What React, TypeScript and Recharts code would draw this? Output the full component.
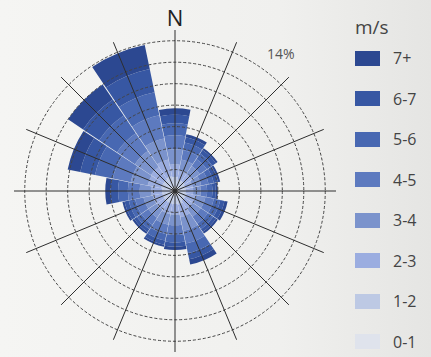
import {
  RadialBarChart,
  RadialBar,
  PolarAngleAxis,
  PolarRadiusAxis,
  PolarGrid,
} from 'recharts';

// 16 compass sectors, clockwise from north
const directions = ['N', 'NNE', 'NE', 'ENE', 'E', 'ESE', 'SE', 'SSE', 'S', 'SSW', 'SW', 'WSW', 'W', 'WNW', 'NW', 'NNW'];

// frequency (%) of each speed class per sector
const speed0to1 = [0.4, 0.4, 0.4, 0.4, 0.4, 0.4, 0.4, 0.4, 0.4, 0.4, 0.4, 0.4, 0.4, 0.4, 0.4, 0.4];
const speed1to2 = [0.9, 0.7, 0.7, 0.6, 0.6, 0.7, 0.7, 0.9, 0.8, 0.8, 0.8, 0.8, 0.8, 0.9, 0.9, 1.0];
const speed2to3 = [1.2, 0.9, 0.8, 0.7, 0.7, 0.9, 0.9, 1.2, 1.0, 1.0, 0.9, 0.9, 1.0, 1.3, 1.4, 1.6];
const speed3to4 = [1.4, 1.0, 0.9, 0.8, 0.7, 0.9, 0.9, 1.3, 1.0, 1.0, 0.9, 0.9, 1.1, 1.6, 1.8, 2.0];
const speed4to5 = [1.3, 0.9, 0.8, 0.7, 0.6, 0.8, 0.8, 1.2, 0.9, 0.9, 0.8, 0.8, 1.1, 1.7, 2.0, 2.2];
const speed5to6 = [1.1, 0.7, 0.6, 0.5, 0.5, 0.6, 0.6, 0.9, 0.7, 0.6, 0.5, 0.6, 0.9, 1.7, 2.0, 2.2];
const speed6to7 = [0.8, 0.5, 0.4, 0.4, 0.3, 0.4, 0.3, 0.6, 0.4, 0.4, 0.3, 0.4, 0.7, 1.4, 1.8, 2.2];
const speed7plus = [0.6, 0.3, 0.2, 0.2, 0.2, 0.3, 0.2, 0.5, 0.3, 0.2, 0.2, 0.2, 0.5, 1.2, 1.7, 2.3];

const speedBins = ['0-1', '1-2', '2-3', '3-4', '4-5', '5-6', '6-7', '7+'];
const binValues = [speed0to1, speed1to2, speed2to3, speed3to4, speed4to5, speed5to6, speed6to7, speed7plus];
const binColors = ['#dfe3ec', '#bdc9e4', '#9bade0', '#7b93cc', '#5d7abf', '#4868b2', '#3757a3', '#2c4891'];

const ringTicks = [2, 4, 6, 8, 10, 12, 14];

const CX = 175;
const CY = 191;
const FONT = '"Open Sans", "Noto Sans", sans-serif';

const data = directions.map((dir, i) => {
  const row: Record<string, string | number> = { dir };
  binValues.forEach((vals, b) => {
    row[`b${b}`] = vals[i];
  });
  return row;
});

// one spoke through the middle of each sector
const spokeAngles = directions.map((_, i) => 90 - i * 22.5);

export default function App() {
  return (
    <div
      style={{
        position: 'fixed',
        left: 0,
        top: 0,
        width: 431,
        height: 357,
        overflow: 'hidden',
        background: 'linear-gradient(90deg, #f5f5f3 0%, #f0f0ee 65%, #e5e5e3 100%)',
        fontFamily: FONT,
      }}
    >
      {/* band scale puts each sector's start on its upper edge, so the range
          is offset half a sector below north to centre N on the top spoke */}
      <RadialBarChart
        width={431}
        height={357}
        data={data}
        layout="centric"
        cx={CX}
        cy={CY}
        innerRadius={0}
        outerRadius={161}
        startAngle={78.75}
        endAngle={-281.25}
        barCategoryGap="2%"
        margin={{ top: 0, right: 0, bottom: 0, left: 0 }}
      >
        <PolarAngleAxis type="category" dataKey="dir" tick={false} tickLine={false} axisLine={false} />
        <PolarRadiusAxis type="number" domain={[0, 15]} ticks={ringTicks} tick={false} tickLine={false} axisLine={false} />
        {speedBins.map((bin, b) => (
          <RadialBar
            key={bin}
            name={bin}
            dataKey={`b${b}`}
            stackId="wind"
            fill={binColors[b]}
            isAnimationActive={false}
          />
        ))}
        <PolarGrid
          gridType="circle"
          radialLines={false}
          stroke="#444"
          strokeWidth={1}
          strokeDasharray="3 2"
          zIndex={600}
        />
        <PolarGrid
          polarAngles={spokeAngles}
          polarRadius={[]}
          stroke="#2e2e2e"
          strokeWidth={1}
          zIndex={610}
        />
        <circle cx={CX} cy={CY} r={3} fill="#111" />
      </RadialBarChart>

      <div style={{ position: 'absolute', left: CX - 10, top: 2, width: 20, textAlign: 'center', fontSize: 22, color: '#222' }}>
        N
      </div>
      <div style={{ position: 'absolute', left: 267, top: 44, fontSize: 14, color: '#555' }}>14%</div>

      <div style={{ position: 'absolute', left: 355, top: 14, fontSize: 19, color: '#444' }}>m/s</div>
      <div style={{ position: 'absolute', left: 355, top: 38, color: '#444' }}>
        {speedBins
          .map((bin, b) => ({ bin, color: binColors[b] }))
          .reverse()
          .map(({ bin, color }) => (
            <div key={bin} style={{ display: 'flex', alignItems: 'center', height: 40.5 }}>
              <div style={{ width: 25, height: 15, background: color, marginRight: 13 }} />
              <span style={{ fontSize: 16, lineHeight: '18px' }}>{bin}</span>
            </div>
          ))}
      </div>
    </div>
  );
}
